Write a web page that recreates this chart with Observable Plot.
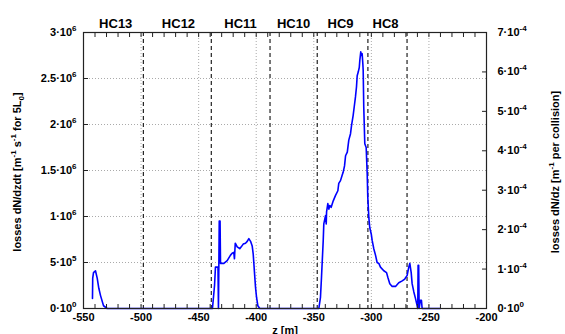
<!DOCTYPE html>
<html>
<head>
<meta charset="utf-8">
<script src="https://cdn.jsdelivr.net/npm/d3@7"></script>
<script src="https://cdn.jsdelivr.net/npm/@observablehq/plot@0.6"></script>
<style>
  html, body { margin: 0; padding: 0; background: white; }
</style>
</head>
<body>
<div id="chart"></div>
<script>
// ---- data ----
const zPos = [
  -542.2, -542.0, -541.3, -539.6, -538.1, -536.7, -535.2, -532.6, -529.4,
  -520, -480, -445,
  -438.0, -436.2, -435.4, -433.2, -432.8, -432.1, -431.4, -431.0, -428.1, -425.2,
  -422.3, -420.9, -419.5, -418.9, -418.2, -416.5, -414.3, -413.0, -411.3, -409.3,
  -407.8, -406.4, -404.9, -403.5, -402.6, -402.1, -401.5, -400.6, -399.7, -398.6, -396.9,
  -390, -370, -350,
  -345.6, -344.2, -343.3, -342.7, -341.8, -341.3, -339.8, -339.2, -338.9, -337.8,
  -336.9, -336.1, -334.9, -333.1, -331.1, -329.1, -328.3, -326.8, -325.3, -324.5,
  -323.3, -322.4, -320.9, -319.6, -318.1, -317.2, -315.8, -314.6, -313.8, -312.9,
  -312.3, -311.4, -310.5, -310.0, -309.2, -308.6, -308.0, -307.4, -307.1, -306.6,
  -305.7, -304.5, -303.6, -303.1, -302.2, -301.4, -300.1, -299.3, -297.9, -296.4,
  -295.0, -293.5, -292.1, -289.2, -286.8, -285.7, -284.0, -281.9, -279.0, -276.2,
  -273.2, -271.0, -268.9, -267.5, -266.6, -265.4, -264.6, -263.1, -261.7, -260.2,
  -259.7, -259.4, -258.9, -258.5, -257.4, -256.5, -255.9, -240
];
// losses dN/dzdt in units of 10^6
const lossMillions = [
  0.11, 0.33, 0.39, 0.41, 0.33, 0.22, 0.14, 0.03, 0,
  0, 0, 0,
  0, 0.25, 0.45, 0.45, 0, 0.95, 0.95, 0.49, 0.49, 0.52,
  0.58, 0.60, 0.61, 0.54, 0.71, 0.67, 0.65, 0.67, 0.70, 0.71,
  0.73, 0.76, 0.73, 0.68, 0.59, 0.50, 0.39, 0.23, 0.12, 0.03, 0,
  0, 0, 0,
  0, 0.12, 0.34, 0.50, 0.74, 0.92, 1.01, 0.92, 1.05, 1.14,
  1.08, 1.12, 1.10, 1.17, 1.23, 1.28, 1.36, 1.39, 1.45, 1.48,
  1.55, 1.66, 1.70, 1.83, 1.90, 1.99, 2.10, 2.22, 2.30, 2.41,
  2.53, 2.57, 2.62, 2.70, 2.79, 2.75, 2.77, 2.66, 2.59, 2.19,
  1.79, 1.75, 1.46, 1.21, 0.99, 0.88, 0.81, 0.74, 0.65, 0.58,
  0.50, 0.49, 0.45, 0.41, 0.39, 0.34, 0.27, 0.24, 0.24, 0.28,
  0.30, 0.32, 0.36, 0.45, 0.49, 0.39, 0.27, 0.18, 0.11, 0.03,
  0, 0.47, 0.47, 0, 0.09, 0.09, 0, 0
];

const dividerZ = [-498, -439, -388, -347, -303, -269];
const hcNames = ["HC13", "HC12", "HC11", "HC10", "HC9", "HC8"];
const hcZ = [-522, -467.5, -413.6, -367.6, -326.8, -287.7];

const xTicks = [-550, -500, -450, -400, -350, -300, -250, -200];
const xMinor = d3.range(-540, -200, 10);
const leftTicks = [0, 0.5e6, 1e6, 1.5e6, 2e6, 2.5e6, 3e6];
const leftTickLabels = ["0·10^{0}", "5·10^{5}", "1·10^{6}", "1.5·10^{6}", "2·10^{6}", "2.5·10^{6}", "3·10^{6}"];
const rightTicks = [0, 1e-4, 2e-4, 3e-4, 4e-4, 5e-4, 6e-4, 7e-4];
const rightTickLabels = ["0·10^{0}", "1·10^{-4}", "2·10^{-4}", "3·10^{-4}", "4·10^{-4}", "5·10^{-4}", "6·10^{-4}", "7·10^{-4}"];
const rightToLeft = 3e6 / 7e-4;

const data = zPos.map((z, i) => ({ z, loss: lossMillions[i] * 1e6 }));
const rightPos = rightTicks.map(v => v * rightToLeft);

const svg = Plot.plot({
  width: 565,
  height: 334,
  marginLeft: 83,
  marginRight: 79,
  marginTop: 32,
  marginBottom: 26,
  style: { fontFamily: "'Liberation Sans', Arial, sans-serif", fontWeight: "bold", fontSize: "11px", background: "white", color: "black", overflow: "visible" },
  x: { domain: [-550, -200] },
  y: { domain: [0, 3e6] },
  marks: [
    Plot.gridX(xTicks.slice(1, -1), { stroke: "#aaa", strokeOpacity: 1, strokeDasharray: "1,2" }),
    Plot.gridY(leftTicks.slice(1, -1), { stroke: "#aaa", strokeOpacity: 1, strokeDasharray: "1,2" }),
    Plot.ruleX(dividerZ, { stroke: "#222", strokeWidth: 1.2, strokeDasharray: "4,3" }),
    Plot.line(data, { x: "z", y: "loss", stroke: "#0000ff", strokeWidth: 1.6 }),
    Plot.frame({ stroke: "#222", strokeWidth: 1.2 }),
    Plot.axisX(xTicks, { anchor: "bottom", tickSize: 0, tickPadding: 5, tickFormat: d => String(d), label: null, fontSize: 11 }),
    Plot.axisX(xMinor, { anchor: "bottom", tickSize: -4, tickFormat: () => "", label: null, stroke: "#222", ariaLabel: "minor" }),
    Plot.axisX(xMinor, { anchor: "top", tickSize: -4, tickFormat: () => "", label: null, stroke: "#222", ariaLabel: "minor" }),
    Plot.axisY(leftTicks, { anchor: "left", tickSize: -5, tickPadding: 12, tickFormat: d => leftTickLabels[leftTicks.indexOf(d)], label: null, stroke: "#222" }),
    Plot.axisY(rightPos, { anchor: "right", tickSize: -5, tickPadding: 16, tickFormat: d => rightTickLabels[rightPos.indexOf(d)], label: null, stroke: "#222" }),
    Plot.text(hcNames, { x: (d, i) => hcZ[i], text: d => d, frameAnchor: "top", dy: -14, fontSize: 13, fontWeight: "bold" })
  ]
});

document.getElementById("chart").append(svg);

// drop empty tick-label texts of the minor tick axes
d3.select(svg).selectAll("text").filter(function () { return this.textContent === ""; }).remove();

// rich text: ^{..} superscript, _{..} subscript
function richify(el, str) {
  const sel = d3.select(el);
  sel.text(null);
  const re = /([\^_])\{([^}]*)\}/g;
  let last = 0, m, shift = 0;
  const addNormal = (s) => {
    if (!s) return;
    const t = sel.append("tspan").text(s);
    if (shift !== 0) { t.attr("dy", -shift); shift = 0; }
  };
  while ((m = re.exec(str)) !== null) {
    addNormal(str.slice(last, m.index));
    const d = m[1] === "^" ? -5 : 3;
    sel.append("tspan").attr("dy", d - shift).attr("font-size", "8px").text(m[2]);
    shift = d;
    last = re.lastIndex;
  }
  addNormal(str.slice(last));
}

d3.select(svg).selectAll("text").each(function () {
  const t = this.textContent;
  if (t.includes("^{") || t.includes("_{")) richify(this, t);
});

// axis titles
const root = d3.select(svg);
const lt = root.append("text")
  .attr("transform", "translate(17,172) rotate(-90)")
  .attr("text-anchor", "middle").attr("dy", "0.35em")
  .attr("font-size", "11px").attr("font-weight", "bold").attr("fill", "black");
richify(lt.node(), "losses dN/dzdt [m^{-1} s^{-1} for 5L_{0}]");
const rt = root.append("text")
  .attr("transform", "translate(555,172) rotate(-90)")
  .attr("text-anchor", "middle").attr("dy", "0.35em")
  .attr("font-size", "11px").attr("font-weight", "bold").attr("fill", "black");
richify(rt.node(), "losses dN/dz [m^{-1} per collision]");
root.append("text")
  .attr("x", 285).attr("y", 334)
  .attr("text-anchor", "middle")
  .attr("font-size", "11px").attr("font-weight", "bold").attr("fill", "black")
  .text("z [m]");
</script>
</body>
</html>
